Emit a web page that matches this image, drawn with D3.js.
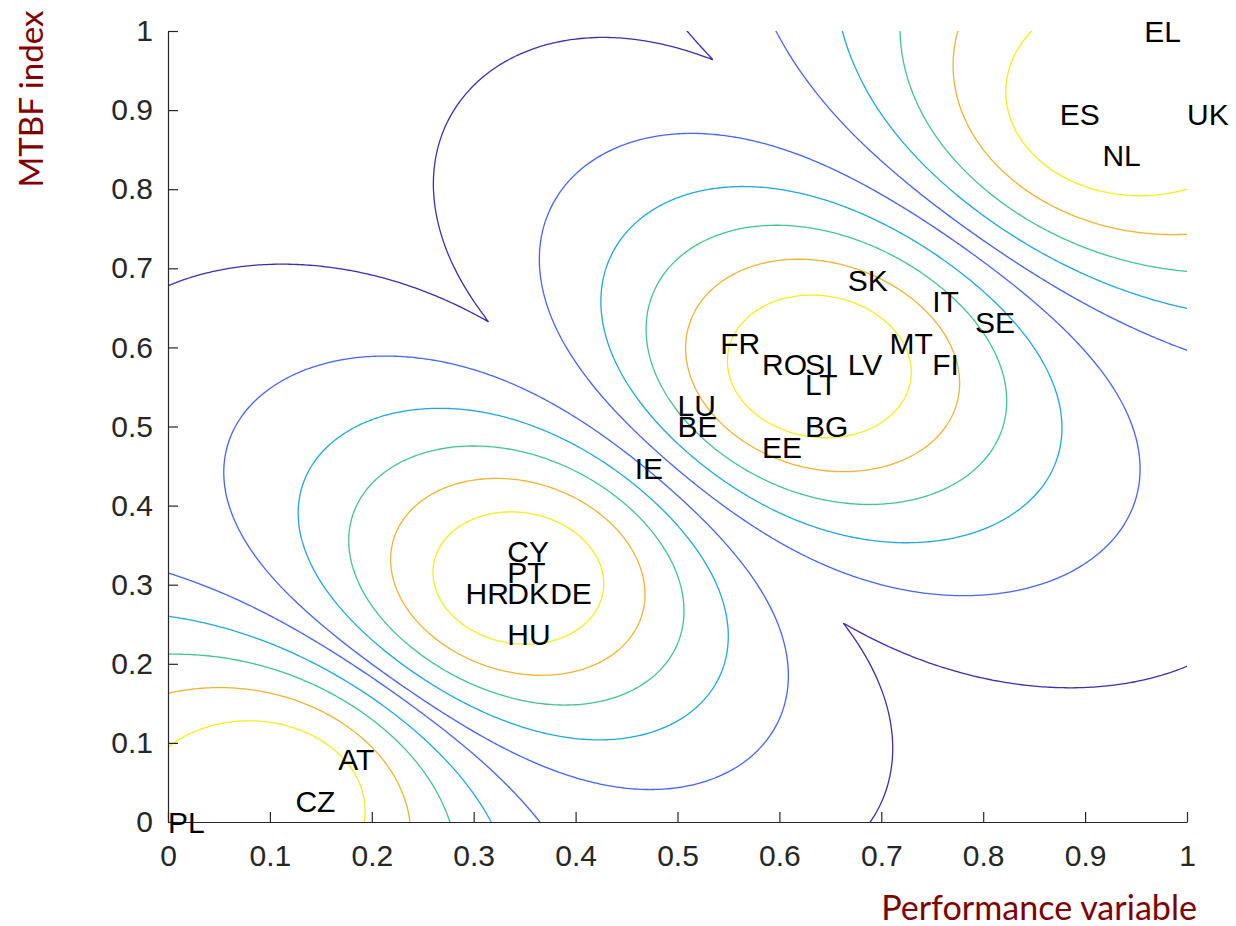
<!DOCTYPE html>
<html>
<head>
<meta charset="utf-8">
<script src="https://cdn.jsdelivr.net/npm/d3@7"></script>
<style>
  html, body { margin: 0; padding: 0; background: #ffffff; }
  svg { display: block; }
</style>
</head>
<body>
<svg id="chart" width="1236" height="926"></svg>
<script>
// Country codes with their (performance variable, MTBF index) coordinates
const countries   = ["EL","ES","UK","NL","SK","IT","SE","FR","MT","RO","SI","LV","FI","LT","LU","BE","BG","EE","IE","CY","PT","HR","DK","DE","HU","AT","CZ","PL"];
const performance = [0.958,0.875,1.000,0.917,0.667,0.750,0.792,0.542,0.708,0.583,0.625,0.667,0.750,0.625,0.500,0.500,0.625,0.583,0.458,0.333,0.333,0.292,0.333,0.375,0.333,0.167,0.125,0.000];
const mtbf        = [1.000,0.895,0.895,0.842,0.684,0.658,0.632,0.605,0.605,0.579,0.579,0.579,0.579,0.553,0.526,0.500,0.500,0.474,0.447,0.342,0.316,0.289,0.289,0.289,0.237,0.079,0.026,0.000];

// Fuzzy c-means set-up: starting centres for the four groups and the fuzzifier
const clusterSeeds = [[0.10, 0.04], [0.33, 0.29], [0.64, 0.58], [0.94, 0.91]];
const fuzzifier = 2;

// Contour levels of the maximum membership and their line colours
const levels      = [0.4, 0.5, 0.6, 0.7, 0.8, 0.9];
const levelColors = ["#3d2fae", "#4664f6", "#1fa8df", "#42c58b", "#eeb434", "#f4ee1c"];

// Axis ticks
const xTickValues = [0, 0.1, 0.2, 0.3, 0.4, 0.5, 0.6, 0.7, 0.8, 0.9, 1];
const yTickValues = [0, 0.1, 0.2, 0.3, 0.4, 0.5, 0.6, 0.7, 0.8, 0.9, 1];

const svg = d3.select("#chart");
const plotLeft = 168, plotRight = 1187, plotTop = 31, plotBottom = 822;

const x = d3.scaleLinear().domain([0, 1]).range([plotLeft, plotRight]);
const y = d3.scaleLinear().domain([0, 1]).range([plotBottom, plotTop]);

const points = countries.map((c, i) => [performance[i], mtbf[i]]);

function memberships(p, centers, m) {
  const d2 = centers.map(c => (p[0] - c[0]) ** 2 + (p[1] - c[1]) ** 2);
  const hit = d2.findIndex(v => v < 1e-14);
  if (hit >= 0) return centers.map((_, k) => (k === hit ? 1 : 0));
  const e = 1 / (m - 1);
  const inv = d2.map(v => Math.pow(1 / v, e));
  const s = d3.sum(inv);
  return inv.map(v => v / s);
}

function fcm(pts, seeds, m, iterations) {
  let centers = seeds.map(c => c.slice());
  for (let it = 0; it < iterations; it++) {
    const U = pts.map(p => memberships(p, centers, m));
    centers = centers.map((c, k) => {
      let sx = 0, sy = 0, sw = 0;
      pts.forEach((p, i) => {
        const w = Math.pow(U[i][k], m);
        sx += w * p[0]; sy += w * p[1]; sw += w;
      });
      return [sx / sw, sy / sw];
    });
  }
  return centers;
}

const centers = fcm(points, clusterSeeds, fuzzifier, 300);

// Sample the maximum membership on a grid a little wider than the axes
const n = 420, g0 = -0.03, g1 = 1.03, step = (g1 - g0) / (n - 1);
const values = new Float64Array(n * n);
for (let j = 0; j < n; j++) {
  for (let i = 0; i < n; i++) {
    const u = memberships([g0 + i * step, g0 + j * step], centers, fuzzifier);
    values[j * n + i] = d3.max(u);
  }
}

const contours = d3.contours().size([n, n]).thresholds(levels)(values);

const gridProjection = d3.geoTransform({
  point(cx, cy) {
    this.stream.point(x(g0 + (cx - 0.5) * step), y(g0 + (cy - 0.5) * step));
  }
});
const path = d3.geoPath(gridProjection);

svg.append("defs").append("clipPath").attr("id", "plot-area")
  .append("rect")
  .attr("x", plotLeft).attr("y", plotTop)
  .attr("width", plotRight - plotLeft).attr("height", plotBottom - plotTop);

svg.append("g")
  .attr("clip-path", "url(#plot-area)")
  .selectAll("path")
  .data(contours)
  .join("path")
  .attr("d", path)
  .attr("fill", "none")
  .attr("stroke", (d, i) => levelColors[i])
  .attr("stroke-width", 1.3)
  .attr("stroke-linejoin", "round");

// Axes: left and bottom only, ticks pointing inwards
const tickFont = "'Liberation Sans', Arial, Helvetica, sans-serif";
const fmt = v => (v === 0 ? "0" : v === 1 ? "1" : d3.format(".1f")(v));

const xAxis = svg.append("g")
  .attr("transform", `translate(0,${plotBottom})`)
  .call(d3.axisBottom(x).tickValues(xTickValues).tickFormat(fmt)
    .tickSizeInner(-10).tickSizeOuter(0).tickPadding(23));

const yAxis = svg.append("g")
  .attr("transform", `translate(${plotLeft},0)`)
  .call(d3.axisLeft(y).tickValues(yTickValues).tickFormat(fmt)
    .tickSizeInner(-10).tickSizeOuter(0).tickPadding(15));

[xAxis, yAxis].forEach(ax => {
  ax.select(".domain").attr("stroke", "#262626").attr("stroke-width", 1.2);
  ax.selectAll(".tick line").attr("stroke", "#262626").attr("stroke-width", 1.2);
  ax.selectAll(".tick text")
    .attr("fill", "#262626")
    .style("font-family", tickFont)
    .style("font-size", "30px");
});

// Country labels, anchored at the left-middle of each text
svg.append("g")
  .selectAll("text")
  .data(countries)
  .join("text")
  .attr("x", (d, i) => x(performance[i]))
  .attr("y", (d, i) => y(mtbf[i]))
  .attr("dy", "0.35em")
  .attr("text-anchor", "start")
  .style("font-family", tickFont)
  .style("font-size", "30px")
  .attr("fill", "#000000")
  .text(d => d);

// Axis titles
const titleFont = "Lato, 'Noto Sans', sans-serif";
function fitText(sel, width) {
  const base = 32;
  sel.style("font-size", base + "px");
  const w = sel.node().getComputedTextLength();
  sel.style("font-size", (base * width / w) + "px");
}

const xTitle = svg.append("text")
  .attr("x", 1197).attr("y", 920)
  .attr("text-anchor", "end")
  .attr("fill", "#800000")
  .style("font-family", titleFont)
  .text("Performance variable");
fitText(xTitle, 316);

const yTitle = svg.append("text")
  .attr("transform", "translate(43,99) rotate(-90)")
  .attr("text-anchor", "middle")
  .attr("fill", "#800000")
  .style("font-family", titleFont)
  .text("MTBF index");
fitText(yTitle, 177);
</script>
</body>
</html>
